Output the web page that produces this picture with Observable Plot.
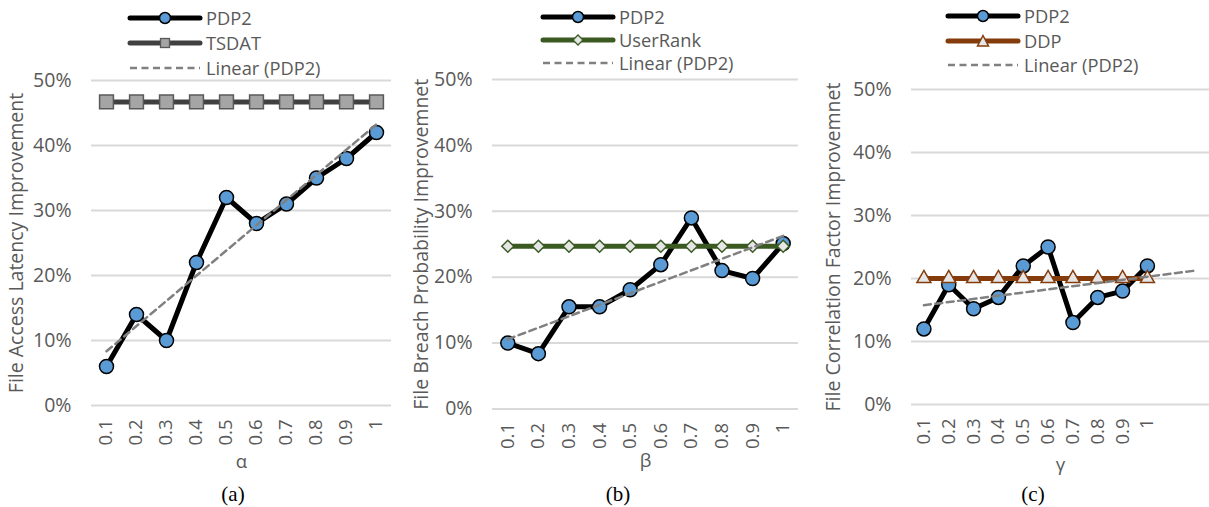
<!DOCTYPE html>
<html><head><meta charset="utf-8">
<script src="https://cdn.jsdelivr.net/npm/d3@7"></script>
<script src="https://cdn.jsdelivr.net/npm/@observablehq/plot@0.6"></script>
<style>
body{margin:0;background:#fff;}
#root{position:relative;width:1209px;height:507px;overflow:hidden;font-family:"Open Sans",sans-serif;}
.panel{position:absolute;top:0;}
.row{position:absolute;white-space:nowrap;display:flex;align-items:center;font-size:18.3px;color:#595959;line-height:20px;}
.row svg{margin-right:3px;}
.cap{position:absolute;font-family:"Liberation Serif",serif;font-size:21px;color:#000;transform:translate(-50%,-50%);white-space:nowrap;}
</style></head><body><div id="root"></div>
<script>
// ---- data ----
const xLabels = ["0.1","0.2","0.3","0.4","0.5","0.6","0.7","0.8","0.9","1"];
const yTicks = [0,10,20,30,40,50];
// panel (a)
const pdp2A  = [6,14,10,22,32,28,31,35,38,42];
const tsdatA = [46.7,46.7,46.7,46.7,46.7,46.7,46.7,46.7,46.7,46.7];
// panel (b)
const pdp2B     = [10,8.4,15.5,15.5,18.1,21.9,29,21,19.8,25.1];
const userRankB = [24.7,24.7,24.7,24.7,24.7,24.7,24.7,24.7,24.7,24.7];
// panel (c)
const pdp2C = [12,19,15.2,17,22,25,13,17,18,22];
const ddpC  = [20,20,20,20,20,20,20,20,20,20];

const root = document.getElementById("root");
const GRID = "#d9d9d9", TXT = "#595959";

function trend(vals, xEnd){
  const xs = d3.range(1, vals.length+1);
  const mx = d3.mean(xs), my = d3.mean(vals);
  const b = d3.sum(xs,(x,i)=>(x-mx)*(vals[i]-my))/d3.sum(xs,x=>(x-mx)**2);
  const a = my - b*mx;
  return [{x:1,y:a+b},{x:xEnd,y:a+b*xEnd}];
}
const rows = vals => vals.map((v,i)=>({x:i+1,y:v}));

function makePanel(p){
  const d1 = rows(p.s1), d2 = rows(p.s2);
  const tr = trend(p.s1, p.trendEnd);
  const chart = Plot.plot({
    width: p.width, height: 507,
    marginTop: p.y50, marginBottom: 507 - p.y0,
    marginLeft: p.marginLeft, marginRight: p.marginRight,
    x: {domain: [0.5, p.nCats + 0.5]},
    y: {domain: [0, 50]},
    style: {fontFamily: "Open Sans", fontSize: "19px", color: TXT, background: "transparent", overflow: "visible"},
    marks: [
      Plot.gridY(yTicks, {stroke: GRID, strokeOpacity: 1, strokeWidth: 2}),
      Plot.axisY(yTicks, {tickSize: 0, tickPadding: 20, tickFormat: d => d + "%", fill: TXT, fontSize: 19.5,
        label: p.ylabel, labelAnchor: "center", labelOffset: p.yLabelOffset, labelArrow: "none"}),
      Plot.axisX(d3.range(1, 11), {tickSize: 0, tickPadding: 14, tickRotate: -90, tickFormat: i => xLabels[i-1], fill: TXT, fontSize: 18.5,
        label: p.xlabel, labelAnchor: "center", labelOffset: p.xLabelOffset, labelArrow: "none"}),
      Plot.line(d1, {x: "x", y: "y", stroke: "#000", strokeWidth: 5, strokeLinejoin: "round", strokeLinecap: "round"}),
      Plot.dot(d1, {x: "x", y: "y", r: 7, fill: "#5b9bd5", stroke: "#000", strokeWidth: 1.5, symbol: "circle"}),
      Plot.line(d2, {x: "x", y: "y", stroke: p.s2color, strokeWidth: 5, strokeLinecap: "round"}),
      Plot.dot(d2, {x: "x", y: "y", r: p.s2r, fill: p.s2fill, stroke: p.s2stroke, strokeWidth: 1.5, symbol: p.s2symbol}),
      Plot.line(tr, {x: "x", y: "y", stroke: "#808080", strokeWidth: 2.5, strokeDasharray: "7,4.5"})
    ]
  });
  const wrap = document.createElement("div");
  wrap.className = "panel";
  wrap.style.left = p.left + "px";
  wrap.appendChild(chart);
  root.appendChild(wrap);

  // legend
  const legendItems = [
    {name: "PDP2", color: "#000", marker: "circle"},
    {name: p.s2name, color: p.s2color, marker: p.s2legend},
    {name: "Linear (PDP2)", color: "#808080", marker: "dash"}
  ];
  legendItems.forEach((it, k) => {
    const row = document.createElement("div");
    row.className = "row";
    row.style.left = p.legX + "px";
    row.style.top = (p.legY[k] - 10) + "px";
    let m = "";
    if (it.marker === "circle") m = `<circle cx="38" cy="10" r="5.5" fill="#5b9bd5" stroke="#000" stroke-width="1.5"/>`;
    if (it.marker === "square") m = `<rect x="33.5" y="5.5" width="9" height="9" fill="#a5a5a5" stroke="#595959" stroke-width="1.3"/>`;
    if (it.marker === "diamond") m = `<path d="M38,5 L43,10 L38,15 L33,10Z" fill="#e7e6e6" stroke="#3a5a22" stroke-width="1.3"/>`;
    if (it.marker === "triangle") m = `<path d="M38,4.5 L43.5,15 L32.5,15Z" fill="#e7e6e6" stroke="#843c0c" stroke-width="1.5"/>`;
    const line = it.marker === "dash"
      ? `<line x1="3" x2="73" y1="10" y2="10" stroke="${it.color}" stroke-width="2.5" stroke-dasharray="7,4.5"/>`
      : `<line x1="3" x2="73" y1="10" y2="10" stroke="${it.color}" stroke-width="5" stroke-linecap="round"/>`;
    row.innerHTML = `<svg width="76" height="20">${line}${m}</svg><span>${it.name}</span>`;
    root.appendChild(row);
  });
  const cap = document.createElement("div");
  cap.className = "cap";
  cap.style.left = p.capX + "px";
  cap.style.top = "494px";
  cap.textContent = p.caption;
  root.appendChild(cap);
}

makePanel({left: 0, width: 400, marginLeft: 91, marginRight: 9, y0: 405, y50: 80, nCats: 10,
  s1: pdp2A, s2: tsdatA, s2name: "TSDAT", s2color: "#404040", s2fill: "#a5a5a5", s2stroke: "#595959",
  s2symbol: "square", s2r: 7.8, s2legend: "square", trendEnd: 10,
  ylabel: "File Access Latency Improvement", xlabel: "α", yLabelOffset: 82, xLabelOffset: 62,
  legX: 127, legY: [18, 43, 68], capX: 233, caption: "(a)"});
makePanel({left: 400, width: 405, marginLeft: 92, marginRight: 7, y0: 408.5, y50: 79, nCats: 10,
  s1: pdp2B, s2: userRankB, s2name: "UserRank", s2color: "#3a5a22", s2fill: "#e7e6e6", s2stroke: "#3a5a22",
  s2symbol: "diamond2", s2r: 5.4, s2legend: "diamond", trendEnd: 10,
  ylabel: "File Breach Probability Improvemnet", xlabel: "β", yLabelOffset: 78, xLabelOffset: 58,
  legX: 540, legY: [17, 40, 63], capX: 618, caption: "(b)"});
makePanel({left: 810, width: 399, marginLeft: 101, marginRight: 0, y0: 404, y50: 89, nCats: 12,
  s1: pdp2C, s2: ddpC, s2name: "DDP", s2color: "#843c0c", s2fill: "#e7e6e6", s2stroke: "#843c0c",
  s2symbol: "triangle", s2r: 5.2, s2legend: "triangle", trendEnd: 12,
  ylabel: "File Correlation Factor Improvemnet", xlabel: "γ", yLabelOffset: 85, xLabelOffset: 66,
  legX: 945, legY: [16, 41, 65], capX: 1033, caption: "(c)"});
</script></body></html>
